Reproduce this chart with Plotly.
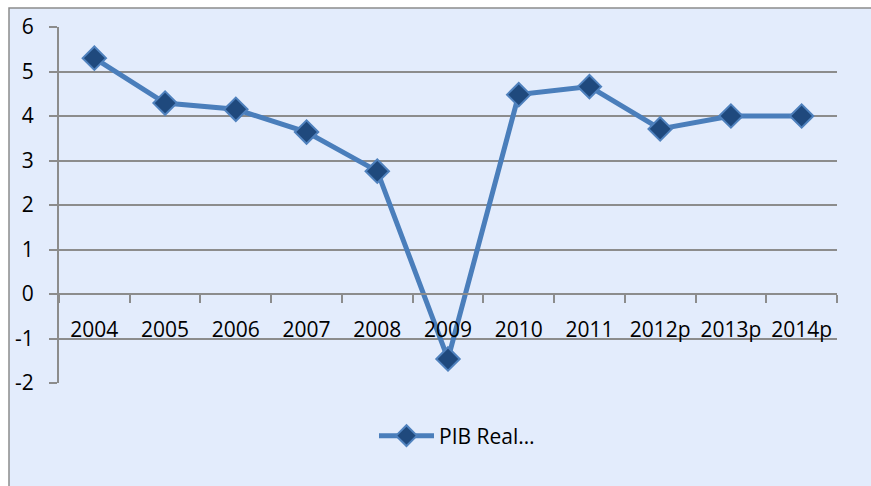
import plotly.graph_objects as go

years = ["2004", "2005", "2006", "2007", "2008", "2009", "2010", "2011", "2012p", "2013p", "2014p"]
pib_real = [5.3, 4.29, 4.15, 3.64, 2.76, -1.46, 4.48, 4.66, 3.71, 4.0, 4.0]
series_name = "PIB Real…"
y_tickvals = [-2, -1, 0, 1, 2, 3, 4, 5, 6]
y_ticktext = ["-2", "-1", "0", "1", "2", "3", "4", "5", "6"]

W, H = 871, 486
L, R, T, B = 59, 871 - 837, 27, 486 - 383
pw, ph = W - L - R, H - T - B

def px(x):
    return (x - L) / pw

def py(y):
    return (H - B - y) / ph

grid = "#8C8C8C"
font = dict(family="Open Sans", size=21, color="black")

fig = go.Figure()
fig.add_trace(go.Scatter(
    x=years, y=pib_real, name=series_name, mode="lines+markers",
    line=dict(color="#4A7EBB", width=5),
    marker=dict(symbol="diamond", size=18, color="#1F497D",
                line=dict(color="#4F81BD", width=2)),
))

fig.add_shape(type="rect", xref="paper", yref="paper",
              x0=px(9), x1=px(880), y0=py(495), y1=py(8),
              fillcolor="#E3ECFC", line=dict(color="#8C8C8C", width=1.5),
              layer="below")

fig.update_layout(
    width=W, height=H,
    margin=dict(l=L, r=R, t=T, b=B),
    paper_bgcolor="white", plot_bgcolor="rgba(0,0,0,0)",
    font=font,
    showlegend=True,
    legend=dict(orientation="h", x=px(457), xanchor="center", y=py(436), yanchor="middle",
                bgcolor="rgba(0,0,0,0)", font=font, itemwidth=55),
    xaxis=dict(type="category", categoryorder="array", categoryarray=years,
               range=[-0.5, len(years) - 0.5], anchor="free", position=0.25,
               showline=True, linecolor=grid, linewidth=2, automargin=False,
               ticks="outside", tickson="boundaries", ticklen=8, tickcolor=grid, tickwidth=2,
               showgrid=False, ticklabelstandoff=17, tickangle=0, tickfont=font),
    yaxis=dict(range=[-2, 6], tickmode="array", tickvals=y_tickvals, ticktext=y_ticktext,
               showgrid=True, gridcolor=grid, gridwidth=2,
               zeroline=False, showline=True, linecolor=grid, linewidth=2, automargin=False,
               ticks="outside", ticklen=8, tickcolor=grid, tickwidth=2,
               ticklabelstandoff=11, tickfont=font),
)

fig.write_html("out.html", config={"displayModeBar": False},
               post_script="document.body.style.margin='0';document.body.style.overflow='hidden';")
